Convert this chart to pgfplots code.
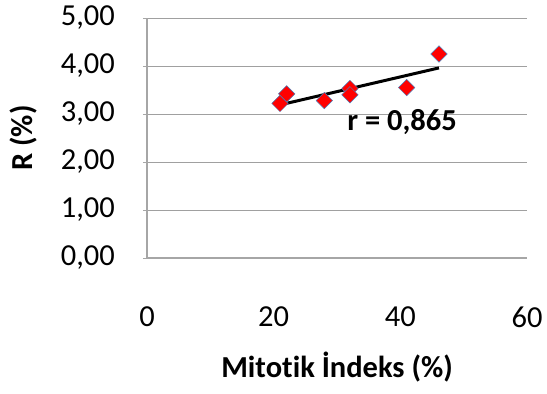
\documentclass[border=0pt]{standalone}
\usepackage{pgfplots}
\pgfplotsset{compat=1.18}
\usepackage{fontspec}
\setmainfont{Carlito}[Ligatures={NoCommon}]
\definecolor{gridgray}{RGB}{160,160,160}
\definecolor{axisgray}{RGB}{166,166,166}
\definecolor{mkred}{RGB}{255,0,0}
\definecolor{mkblue}{RGB}{74,126,187}
\begin{document}
\begin{tikzpicture}
\useasboundingbox (0,0) rectangle (547pt,394pt);
\begin{axis}[
  at={(147pt,136pt)}, anchor=south west,
  scale only axis, width=380pt, height=240pt,
  xmin=0, xmax=60, ymin=0, ymax=5,
  xtick={0,20,40,60}, ytick={0,1,2,3,4,5},
  axis lines*=left,
  axis line style={draw=axisgray, line width=1.2pt},
  ymajorgrids, grid style={draw=gridgray, line width=0.9pt},
  tick align=outside, major tick length=4pt,
  xtick style={draw=none},
  ytick style={draw=axisgray, line width=1pt},
  /pgf/number format/assume math mode=true,
  yticklabel style={/pgf/number format/.cd, fixed, fixed zerofill, precision=2, use comma, /tikz/.cd,
    font=\fontsize{30.5}{30.5}\selectfont, anchor=east, inner sep=0pt, xshift=-28pt},
  xticklabel style={font=\fontsize{30.5}{30.5}\selectfont, anchor=center, inner sep=0pt, yshift=-55pt},
  xlabel={Mitotik İndeks (\%)},
  ylabel={R (\%)},
  xlabel style={font=\fontsize{30.5}{30.5}\selectfont\bfseries, at={(axis description cs:0.5,-0.455)}, anchor=center, inner sep=0pt},
  ylabel style={font=\fontsize{30.5}{30.5}\selectfont\bfseries, at={(axis description cs:-0.326,0.5)}, anchor=center, inner sep=0pt},
  clip=false,
]
\addplot[only marks, mark=square*, mark size=5.8pt,
  mark options={rotate=45, fill=mkred, draw=mkblue, line width=0.5pt}]
  coordinates {(21.0,3.22) (22.06,3.42) (28.0,3.28) (32.05,3.53) (32.05,3.40) (41.0,3.55) (46.1,4.25)};
\addplot[black, line width=3pt, no marks] coordinates {(21.0,3.19) (46.1,3.96)};
\node[anchor=west, inner sep=0pt, font=\fontsize{30.5}{30.5}\selectfont\bfseries] at (axis cs:31.6,2.84) {r = 0,865};
\end{axis}
\end{tikzpicture}
\end{document}
